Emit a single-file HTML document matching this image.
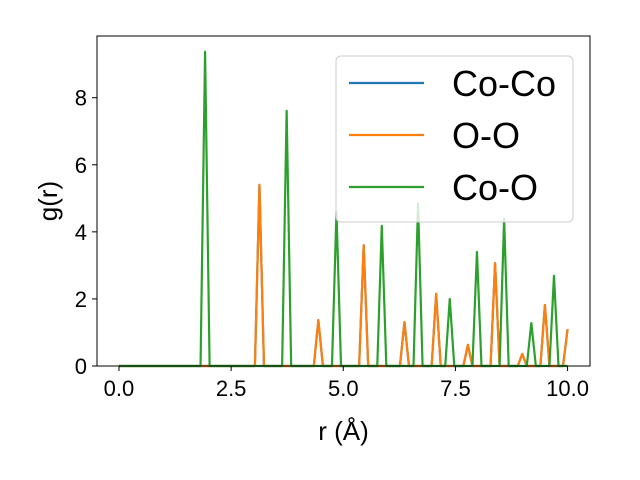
<!DOCTYPE html>
<html><head><meta charset="utf-8"><style>
html,body{margin:0;padding:0;background:#fff;}
svg{display:block;font-family:"Liberation Sans","DejaVu Sans",sans-serif;}
</style></head><body>
<svg id="chart" width="640" height="480" viewBox="0 0 640 480" xmlns="http://www.w3.org/2000/svg">
<rect width="640" height="480" fill="#fff"/>
<g id="plot"></g>
</svg>
<script>
const N = 100;
const rMax = 10;
const ooPeakIdx = [31, 44, 54, 63, 70, 77, 83, 89, 94, 99];
const ooPeakVal = [5.4, 1.37, 3.6, 1.31, 2.15, 0.63, 3.07, 0.36, 1.82, 1.1];
const cocoPeakIdx = [31, 44, 54, 63, 70, 77, 83, 89, 94, 99];
const cocoPeakVal = [5.4, 1.37, 3.6, 1.31, 2.15, 0.63, 3.07, 0.36, 1.82, 1.1];
const cooPeakIdx = [19, 37, 48, 58, 66, 73, 79, 85, 91, 96];
const cooPeakVal = [9.37, 7.61, 4.6, 4.18, 4.84, 2.0, 3.4, 4.39, 1.28, 2.69];
const xTicks = [0, 2.5, 5, 7.5, 10];
const xTickLabels = ["0.0", "2.5", "5.0", "7.5", "10.0"];
const yTicks = [0, 2, 4, 6, 8];
const yTickLabels = ["0", "2", "4", "6", "8"];
const seriesNames = ["Co-Co", "O-O", "Co-O"];
const seriesColors = ["#1f77b4", "#ff7f0e", "#2ca02c"];

const L = 97, R = 590, T = 36, B = 366;
const xMin = -0.49, xMax = 10.5, yMin = 0, yMax = 9.84;
const xs = v => L + (v - xMin) / (xMax - xMin) * (R - L);
const ys = v => B - (v - yMin) / (yMax - yMin) * (B - T);
const NS = "http://www.w3.org/2000/svg";
const g = document.getElementById('plot');
function mk(tag, attrs, parent) {
  const e = document.createElementNS(NS, tag);
  for (const k in attrs) e.setAttribute(k, attrs[k]);
  (parent || g).appendChild(e);
  return e;
}
function build(idx, val) {
  const arr = new Array(N).fill(0);
  idx.forEach((i, k) => arr[i] = val[k]);
  return arr;
}
const series = [build(cocoPeakIdx, cocoPeakVal), build(ooPeakIdx, ooPeakVal), build(cooPeakIdx, cooPeakVal)];
series.forEach((arr, s) => {
  const pts = arr.map((v, i) => xs(i * rMax / (N - 1)).toFixed(2) + ',' + ys(v).toFixed(2)).join(' ');
  const pl = mk('polyline', {points: pts, fill: 'none', stroke: seriesColors[s], 'stroke-width': 2.2, 'stroke-linejoin': 'round'});
  
  
});
const frame = mk('rect', {x: L, y: T, width: R - L, height: B - T, fill: 'none', stroke: '#000', 'stroke-width': 1});


xTicks.forEach((t, i) => {
  const x = xs(t);
  const tk = mk('line', {x1: x, x2: x, y1: B, y2: B + 5, stroke: '#000', 'stroke-width': 1});
  
  
  const tx = mk('text', {x: x, y: B + 30, 'font-size': 22, 'text-anchor': 'middle', fill: '#000'});
  tx.textContent = xTickLabels[i];
  
  
});
yTicks.forEach((t, i) => {
  const y = ys(t);
  const tk = mk('line', {x1: L - 5, x2: L, y1: y, y2: y, stroke: '#000', 'stroke-width': 1});
  
  
  const tx = mk('text', {x: L - 10, y: y + 8, 'font-size': 22, 'text-anchor': 'end', fill: '#000'});
  tx.textContent = yTickLabels[i];
  
  
});
const xl = mk('text', {x: (L + R) / 2, y: 440, 'font-size': 26, 'text-anchor': 'middle', fill: '#000'});
xl.textContent = 'r (Å)';


const yl = mk('text', {x: 0, y: 0, 'font-size': 26, 'text-anchor': 'middle', fill: '#000', transform: 'translate(57,' + ((T + B) / 2) + ') rotate(-90)'});
yl.textContent = 'g(r)';


const leg = mk('g', {});


mk('rect', {x: 336, y: 56, width: 237, height: 166, rx: 5, fill: 'rgba(255,255,255,0.8)', stroke: '#ccc', 'stroke-width': 1}, leg);
seriesNames.forEach((n, i) => {
  const y = 83 + i * 52;
  const ln = mk('line', {x1: 349, x2: 424, y1: y, y2: y, stroke: seriesColors[i], 'stroke-width': 2.2}, leg);
  
  
  const tx = mk('text', {x: 452, y: y + 13, 'font-size': 36, fill: '#000'}, leg);
  tx.textContent = n;
  
  
});
</script>
</body></html>
